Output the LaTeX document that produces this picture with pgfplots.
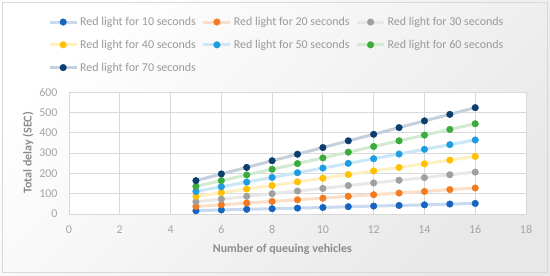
\documentclass[border=0pt]{standalone}
\usepackage{pgfplots}
\pgfplotsset{compat=1.18}
\usepackage{fontspec}
\setmainfont{Carlito}
\definecolor{c1}{HTML}{1565C0}
\definecolor{c2}{HTML}{F47B20}
\definecolor{c3}{HTML}{A0A0A0}
\definecolor{c4}{HTML}{FFC000}
\definecolor{c5}{HTML}{1E9CE0}
\definecolor{c6}{HTML}{3CAA3C}
\definecolor{c7}{HTML}{0B3D6F}
\definecolor{tickgray}{HTML}{A6A6A6}
\definecolor{labgray}{HTML}{8C8C8C}
\definecolor{leggray}{HTML}{9A9A9A}
\pgfplotsset{
  ser/.style={draw=#1!24, line width=3bp, mark=*, mark size=3.3bp,
    mark options={fill=#1, draw=#1, line width=0.4bp}},
}
\begin{document}
\begin{tikzpicture}
\shade[top color=white, bottom color=black!9, shading angle=45] (0bp,0bp) rectangle (550bp,-276bp);
\draw[black!15, line width=1bp] (2bp,-2bp) rectangle (547bp,-272bp);
\begin{axis}[
  at={(69bp,-214bp)}, anchor=south west,
  scale only axis, width=457bp, height=122bp,
  xmin=0, xmax=18, ymin=0, ymax=600,
  xtick={0,2,...,18}, ytick={0,100,...,600},
  axis background/.style={fill=white},
  grid=major, grid style={black!15, line width=0.8bp},
  axis line style={black!15, line width=0.8bp},
  major tick length=0,
  /pgf/number format/assume math mode=true,
  tick label style={font=\fontsize{12}{14}\selectfont, text=tickgray},
  xticklabel style={yshift=-8bp},
  yticklabel style={xshift=-8bp},
  xlabel={Number of queuing vehicles},
  ylabel={Total delay (SEC)},
  label style={font=\bfseries\fontsize{12}{14}\selectfont, text=labgray},
  xlabel style={at={(axis description cs:0.467,-0.287)}, anchor=center},
  ylabel style={at={(axis description cs:-0.0897,0.5)}, anchor=center, rotate=0},
  legend columns=3,
  legend cell align=left,
  legend image code/.code={\draw[mark repeat=2,mark phase=2,#1] plot coordinates {(0bp,0bp) (13.5bp,0bp) (27bp,0bp)};},
  legend style={at={(axis description cs:-0.0525,1.648)}, anchor=north west,
    draw=none, fill=none, font=\fontsize{12}{14}\selectfont, text=leggray,
    row sep=9bp, /tikz/every even column/.append style={column sep=4bp}},
]
\addplot[ser=c1] coordinates {(5,16)(6,20)(7,23)(8,26)(9,29)(10,32)(11,36)(12,39)(13,42)(14,45)(15,49)(16,52)};
\addlegendentry{Red light for 10 seconds}
\addplot[ser=c2] coordinates {(5,37)(6,45)(7,54)(8,62)(9,70)(10,78)(11,87)(12,95)(13,103)(14,111)(15,120)(16,128)};
\addlegendentry{Red light for 20 seconds}
\addplot[ser=c3] coordinates {(5,60)(6,73)(7,87)(8,100)(9,113)(10,126)(11,140)(12,153)(13,166)(14,179)(15,193)(16,206)};
\addlegendentry{Red light for 30 seconds}
\addplot[ser=c4] coordinates {(5,87)(6,105)(7,123)(8,140)(9,158)(10,176)(11,194)(12,212)(13,229)(14,247)(15,265)(16,283)};
\addlegendentry{Red light for 40 seconds}
\addplot[ser=c5] coordinates {(5,111)(6,134)(7,157)(8,180)(9,203)(10,226)(11,249)(12,272)(13,295)(14,318)(15,341)(16,364)};
\addlegendentry{Red light for 50 seconds}
\addplot[ser=c6] coordinates {(5,136)(6,164)(7,192)(8,220)(9,248)(10,276)(11,304)(12,332)(13,360)(14,388)(15,416)(16,444)};
\addlegendentry{Red light for 60 seconds}
\addplot[ser=c7] coordinates {(5,164)(6,197)(7,229)(8,262)(9,294)(10,327)(11,360)(12,392)(13,425)(14,458)(15,490)(16,523)};
\addlegendentry{Red light for 70 seconds}
\end{axis}
\end{tikzpicture}
\end{document}
